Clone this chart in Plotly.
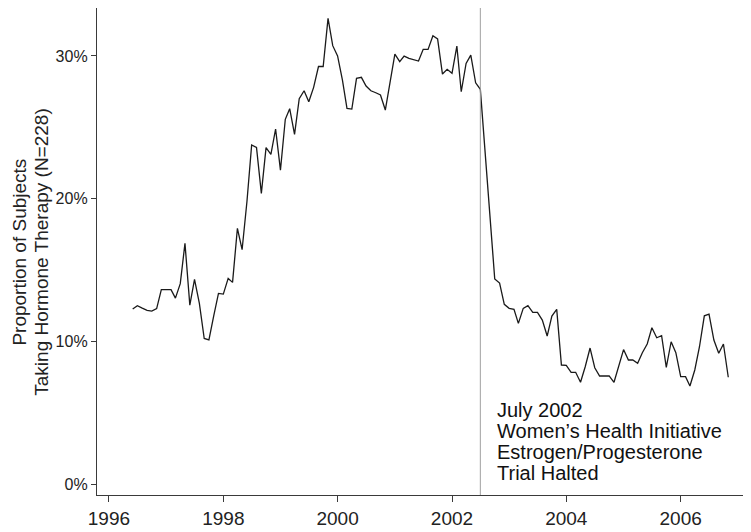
import plotly.graph_objects as go
import pandas as pd

# Monthly proportion (%) of subjects taking hormone therapy, June 1996 - Nov 2006
start_month = "1996-06-01"
values = [
    12.26, 12.50, 12.33, 12.17, 12.12, 12.29, 13.62, 13.62, 13.62, 13.03,
    14.04, 16.87, 12.54, 14.34, 12.66, 10.20, 10.10, 11.80, 13.36, 13.31,
    14.41, 14.13, 17.92, 16.42, 19.80, 23.76, 23.59, 20.37, 23.57, 23.10,
    24.88, 22.00, 25.56, 26.30, 24.50, 27.00, 27.56, 26.79, 27.80, 29.26,
    29.26, 32.63, 30.72, 30.00, 28.31, 26.33, 26.28, 28.43, 28.50, 27.89,
    27.56, 27.42, 27.26, 26.21, 28.08, 30.13, 29.60, 29.99, 29.83, 29.76,
    29.64, 30.46, 30.46, 31.42, 31.19, 28.73, 29.06, 28.78, 30.69, 27.49,
    29.48, 30.06, 28.12, 27.66, 23.00, 18.50, 14.37, 14.08, 12.59, 12.31,
    12.24, 11.26, 12.31, 12.50, 12.03, 12.03, 11.49, 10.37, 11.77, 12.24,
    8.34, 8.32, 7.83, 7.83, 7.13, 8.22, 9.53, 8.15, 7.57, 7.57,
    7.58, 7.13, 8.24, 9.42, 8.69, 8.69, 8.46, 9.20, 9.81, 10.95,
    10.25, 10.39, 8.18, 9.97, 9.20, 7.52, 7.52, 6.87, 7.99, 9.62,
    11.79, 11.91, 10.09, 9.16, 9.81, 7.48,
]
months = pd.date_range(start_month, periods=len(values), freq="MS")

x_tick_vals = ["1996-01-01", "1998-01-01", "2000-01-01", "2002-01-01", "2004-01-01", "2006-01-01"]
x_tick_text = ["1996", "1998", "2000", "2002", "2004", "2006"]
y_tick_vals = [0, 10, 20, 30]
y_tick_text = ["0%", "10%", "20%", "30%"]

event_date = "2002-07-01"
event_lines = ["July 2002", "Women\u2019s Health Initiative", "Estrogen/Progesterone", "Trial Halted"]
y_title_lines = ["Proportion of Subjects", "Taking Hormone Therapy (N=228)"]

FONT = "Arial, Liberation Sans, Helvetica, sans-serif"
AX = "#3a3a3a"

# the page body adds an 8px offset; the figure is sized to fit inside it
FIG_W, FIG_H = 743, 524
M_L, M_R, M_T, M_B = 89, 3, 0, 37
plot_h = FIG_H - M_T - M_B

fig = go.Figure()
fig.add_trace(go.Scatter(
    x=months, y=values, mode="lines",
    line=dict(color="#1a1a1a", width=1.3),
    hoverinfo="skip", showlegend=False,
))

fig.add_shape(type="line", xref="x", yref="paper",
              x0=event_date, x1=event_date, y0=0, y1=1,
              line=dict(color="#a0a0a0", width=1))

# event annotation lines (pixel centers in figure coords)
line_y_px = [402, 423, 444, 465]
for txt, ypx in zip(event_lines, line_y_px):
    fig.add_annotation(
        x=event_date, xref="x", xanchor="left", xshift=15,
        y=(M_T + plot_h - ypx) / plot_h, yref="paper", yanchor="middle",
        text=txt, showarrow=False, align="left",
        font=dict(family=FONT, size=20, color="#111"),
    )

# y-axis title lines
for txt, xpx in zip(y_title_lines, [10.6, 32.7]):
    fig.add_annotation(
        x=0, xref="paper", xanchor="center", xshift=xpx - M_L,
        y=(M_T + plot_h - 244) / plot_h, yref="paper", yanchor="middle",
        text=txt, textangle=-90, showarrow=False,
        font=dict(family=FONT, size=19, color="#222"),
    )

fig.update_xaxes(
    type="date", range=["1995-10-17", "2007-03-07"],
    tickvals=x_tick_vals, ticktext=x_tick_text,
    showline=True, linecolor=AX, linewidth=1.3,
    ticks="outside", ticklen=6, tickcolor=AX, tickwidth=1.2,
    showgrid=False, zeroline=False,
    tickfont=dict(family=FONT, size=19, color="#222"),
)
fig.update_yaxes(
    range=[-0.77, 33.36],
    tickvals=y_tick_vals, ticktext=y_tick_text,
    showline=True, linecolor=AX, linewidth=1.3,
    ticks="outside", ticklen=5, tickcolor=AX, tickwidth=1.2,
    showgrid=False, zeroline=False,
    tickfont=dict(family=FONT, size=16, color="#222"),
)

fig.update_layout(
    width=FIG_W, height=FIG_H,
    margin=dict(l=M_L, r=M_R, t=M_T, b=M_B),
    paper_bgcolor="white", plot_bgcolor="white",
    showlegend=False,
)

fig.write_html("out.html")
